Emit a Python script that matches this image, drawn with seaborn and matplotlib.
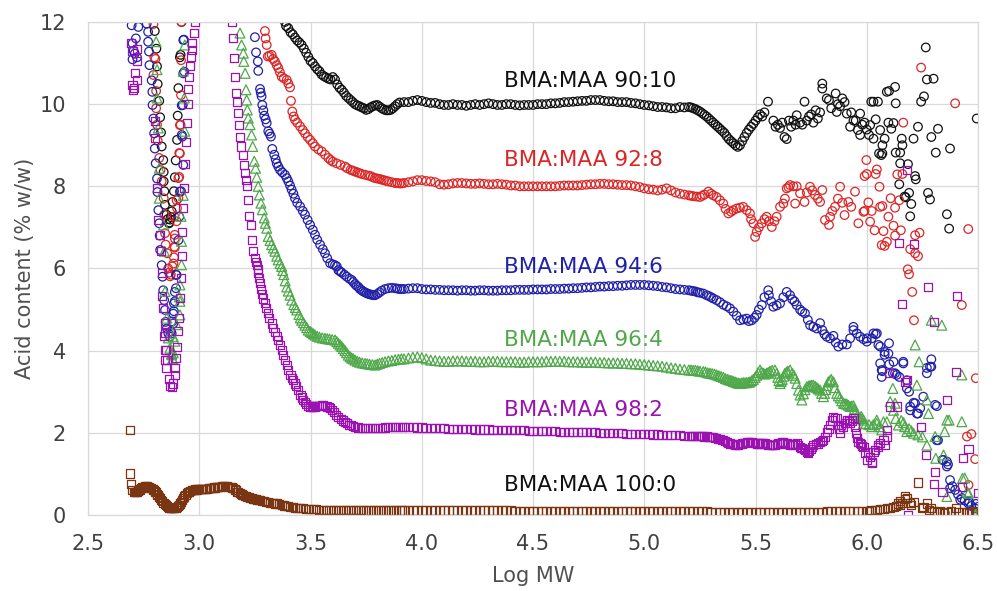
import numpy as np
import pandas as pd
import matplotlib.pyplot as plt
import seaborn as sns

# ---- data (x = Log MW, y = acid content % w/w) ----

# common sampling positions of the flat middle part of each trace
grid_x = [3.92, 3.94, 3.96, 3.98, 4.00, 4.02, 4.04, 4.06, 4.08, 4.10, 4.12, 4.14, 4.16,
          4.18, 4.20, 4.22, 4.24, 4.26, 4.28, 4.30, 4.32, 4.34, 4.36, 4.38, 4.40, 4.42,
          4.44, 4.46, 4.48, 4.50, 4.52, 4.54, 4.56, 4.58, 4.60, 4.62, 4.64, 4.66, 4.68,
          4.70, 4.72, 4.74, 4.76, 4.78, 4.80, 4.82, 4.84, 4.86, 4.88, 4.90, 4.92, 4.94,
          4.96, 4.98, 5.00, 5.02, 5.04, 5.06, 5.08, 5.10, 5.12, 5.14, 5.16, 5.18, 5.20]
brown_tail_x = [5.22, 5.24, 5.26, 5.28, 5.30, 5.32, 5.34, 5.36, 5.38, 5.40, 5.42, 5.44,
                5.46, 5.48, 5.50, 5.52, 5.54, 5.56, 5.58, 5.60, 5.62, 5.64, 5.66, 5.68,
                5.70, 5.72, 5.74, 5.76, 5.78, 5.80, 5.82, 5.84, 5.86, 5.88, 5.90, 5.92,
                5.94, 5.96, 5.98, 6.00]

# BMA:MAA 90:10
bk_left = [(2.800, 11.78), (2.807, 11.35), (2.810, 10.92), (2.813, 10.49), (2.820, 10.08),
           (2.824, 9.68), (2.828, 9.31), (2.831, 8.97), (2.838, 8.64), (2.840, 8.35),
           (2.840, 8.12), (2.843, 7.88), (2.846, 7.55), (2.853, 7.31), (2.858, 7.20),
           (2.864, 7.10), (2.866, 7.12), (2.869, 7.19), (2.872, 7.25), (2.876, 7.39),
           (2.880, 7.62), (2.886, 7.88), (2.890, 8.22), (2.894, 8.63), (2.900, 9.13),
           (2.903, 9.72), (2.906, 10.39), (2.913, 11.14), (2.916, 11.2), (2.920, 12.0)]
bk_rise = [(3.385, 12.0), (3.39, 11.9), (3.40, 11.85), (3.41, 11.75), (3.42, 11.7),
           (3.43, 11.62), (3.44, 11.55), (3.45, 11.5), (3.46, 11.44), (3.47, 11.35),
           (3.48, 11.25), (3.49, 11.15), (3.50, 11.05), (3.51, 11.0), (3.52, 10.92),
           (3.53, 10.85), (3.54, 10.8), (3.55, 10.72), (3.56, 10.68), (3.57, 10.65),
           (3.58, 10.62), (3.59, 10.6), (3.60, 10.66), (3.61, 10.6), (3.62, 10.48),
           (3.63, 10.4), (3.64, 10.35), (3.65, 10.28), (3.66, 10.2), (3.67, 10.15),
           (3.68, 10.1), (3.69, 10.05), (3.70, 10.0), (3.71, 9.97), (3.72, 9.95),
           (3.73, 9.92), (3.74, 9.9), (3.75, 9.86), (3.76, 9.88), (3.77, 9.92), (3.78, 9.95),
           (3.79, 9.97), (3.80, 9.98), (3.81, 9.94), (3.82, 9.9), (3.83, 9.87),
           (3.84, 9.85), (3.85, 9.85), (3.86, 9.86), (3.87, 9.9), (3.88, 9.95),
           (3.89, 10.0), (3.90, 10.04)]
bk_mid = [10.05, 10.05, 10.08, 10.1, 10.08, 10.05, 10.03, 10.03, 10.0, 9.98, 9.98, 10.0,
          9.98, 9.98, 9.96, 9.98, 10.0, 9.98, 10.0, 10.02, 10.0, 9.98, 9.98, 10.0, 10.0,
          9.98, 9.97, 9.98, 9.98, 9.98, 10.0, 10.0, 10.0, 10.02, 10.02, 10.03, 10.05,
          10.05, 10.06, 10.07, 10.08, 10.08, 10.1, 10.1, 10.1, 10.08, 10.07, 10.07, 10.05,
          10.05, 10.05, 10.03, 10.02, 10.0, 9.98, 9.97, 9.95, 9.93, 9.93, 9.92, 9.9, 9.9,
          9.93, 9.92, 9.93]
bk_tail = [(5.21, 9.92), (5.22, 9.9), (5.23, 9.88), (5.24, 9.85), (5.25, 9.82), (5.26, 9.78),
           (5.27, 9.74), (5.28, 9.7), (5.29, 9.65), (5.30, 9.6), (5.31, 9.55), (5.32, 9.5),
           (5.33, 9.45), (5.34, 9.4), (5.35, 9.35), (5.36, 9.3), (5.37, 9.22), (5.38, 9.15),
           (5.39, 9.1), (5.40, 9.05), (5.41, 9.0), (5.42, 8.96), (5.43, 9.0), (5.44, 9.1),
           (5.45, 9.2), (5.46, 9.3), (5.47, 9.38), (5.48, 9.45), (5.49, 9.52), (5.50, 9.6),
           (5.51, 9.68), (5.52, 9.75), (5.53, 9.7), (5.54, 9.8), (5.556, 10.06),
           (5.58, 9.6), (5.59, 9.45), (5.60, 9.5), (5.61, 9.42), (5.62, 9.55), (5.63, 9.2),
           (5.64, 9.15), (5.65, 9.6), (5.66, 9.45), (5.67, 9.6), (5.68, 9.5), (5.685, 9.73),
           (5.70, 9.55), (5.71, 9.5), (5.72, 10.06), (5.73, 9.6), (5.74, 9.7), (5.75, 9.75),
           (5.76, 9.55), (5.77, 9.85), (5.78, 9.65), (5.79, 9.8), (5.80, 10.5), (5.80, 10.38),
           (5.82, 10.14), (5.83, 10.1), (5.84, 9.9), (5.86, 10.26), (5.865, 9.81),
           (5.87, 10.0), (5.88, 9.95), (5.89, 10.14), (5.90, 10.05), (5.91, 9.77),
           (5.925, 9.45), (5.93, 9.8), (5.94, 9.6), (5.95, 9.6), (5.96, 9.37), (5.97, 9.77),
           (5.97, 9.25), (5.98, 9.5), (5.99, 9.55), (6.00, 9.38), (6.01, 9.25), (6.015, 9.49),
           (6.02, 10.06), (6.03, 10.06), (6.03, 9.16), (6.04, 9.63), (6.05, 10.06),
           (6.055, 8.8), (6.065, 8.76), (6.07, 8.8), (6.06, 9.37), (6.07, 9.0), (6.08, 9.16),
           (6.09, 10.3), (6.10, 10.32), (6.097, 9.55), (6.11, 9.4), (6.12, 9.54),
           (6.127, 10.42), (6.13, 10.02), (6.13, 8.82), (6.15, 8.82), (6.15, 8.56),
           (6.16, 9.0), (6.157, 9.16), (6.146, 8.05), (6.185, 8.54), (6.17, 7.75),
           (6.175, 7.73), (6.19, 7.84), (6.20, 7.57), (6.195, 7.27), (6.21, 9.16),
           (6.217, 8.25), (6.22, 8.17), (6.23, 9.45), (6.244, 10.06), (6.257, 10.19),
           (6.265, 11.38), (6.27, 10.6), (6.30, 10.62), (6.275, 7.84), (6.284, 7.68),
           (6.29, 9.2), (6.31, 8.82), (6.32, 9.40), (6.36, 7.32), (6.37, 6.97),
           (6.374, 8.92), (6.494, 9.65), (6.35, 0.05)]

# BMA:MAA 92:8
rd_left = [(2.794, 11.95), (2.798, 11.14), (2.803, 11.1), (2.794, 10.71), (2.806, 10.32),
           (2.806, 9.9), (2.810, 9.5), (2.813, 9.11), (2.820, 8.69), (2.826, 8.4),
           (2.831, 8.12), (2.840, 7.71), (2.843, 7.31), (2.846, 6.86), (2.849, 6.58),
           (2.856, 6.37), (2.860, 6.0), (2.864, 5.9), (2.869, 5.81), (2.872, 5.85),
           (2.879, 6.05), (2.884, 6.12), (2.886, 6.27), (2.890, 6.51), (2.888, 6.53),
           (2.890, 6.73), (2.890, 6.82), (2.898, 7.15), (2.888, 7.26), (2.900, 7.47),
           (2.898, 7.66), (2.906, 7.71), (2.906, 8.2), (2.910, 8.23), (2.913, 8.8),
           (2.910, 8.81), (2.913, 9.49), (2.916, 9.5), (2.918, 10.22), (2.918, 11.07),
           (2.920, 12.0)]
rd_rise = [(3.295, 11.78), (3.298, 11.6), (3.303, 11.44), (3.308, 11.16), (3.315, 11.18),
           (3.325, 11.2), (3.332, 11.1), (3.34, 11.04), (3.348, 10.95), (3.355, 10.88),
           (3.362, 10.78), (3.37, 10.67), (3.38, 10.63), (3.393, 10.59), (3.40, 10.5),
           (3.408, 10.41), (3.412, 10.08), (3.418, 9.82), (3.424, 9.7), (3.43, 9.62),
           (3.44, 9.55), (3.453, 9.46), (3.465, 9.37), (3.475, 9.29), (3.487, 9.2),
           (3.498, 9.13), (3.51, 9.05), (3.52, 8.97), (3.535, 8.9), (3.55, 8.85),
           (3.565, 8.77), (3.58, 8.69), (3.59, 8.64), (3.60, 8.6), (3.617, 8.56),
           (3.635, 8.52), (3.655, 8.48), (3.665, 8.44), (3.68, 8.4), (3.69, 8.38),
           (3.70, 8.36), (3.71, 8.34), (3.72, 8.32), (3.73, 8.3), (3.745, 8.28),
           (3.76, 8.26), (3.77, 8.25), (3.78, 8.22), (3.79, 8.2), (3.80, 8.19), (3.81, 8.18),
           (3.82, 8.16), (3.83, 8.15), (3.84, 8.13), (3.85, 8.12), (3.865, 8.1),
           (3.88, 8.08), (3.89, 8.08), (3.90, 8.07), (3.91, 8.07)]
rd_mid = [8.08, 8.1, 8.12, 8.15, 8.15, 8.13, 8.12, 8.1, 8.05, 8.04, 8.05, 8.07, 8.08, 8.08,
          8.07, 8.06, 8.06, 8.07, 8.06, 8.05, 8.05, 8.06, 8.05, 8.04, 8.02, 8.02, 8.0, 8.0,
          8.0, 8.0, 8.0, 8.0, 8.0, 8.0, 8.0, 8.01, 8.02, 8.02, 8.02, 8.02, 8.03, 8.04, 8.05,
          8.05, 8.06, 8.06, 8.05, 8.05, 8.04, 8.03, 8.03, 8.02, 8.0, 7.98, 7.95, 7.93, 7.92,
          7.9, 7.92, 7.95, 7.9, 7.85, 7.82, 7.8, 7.78]
rd_tail = [(5.21, 7.77), (5.22, 7.76), (5.235, 7.75), (5.25, 7.74), (5.26, 7.77),
           (5.27, 7.8), (5.288, 7.87), (5.30, 7.82), (5.31, 7.78), (5.325, 7.74),
           (5.34, 7.66), (5.355, 7.58), (5.365, 7.45), (5.378, 7.34), (5.39, 7.38),
           (5.40, 7.42), (5.415, 7.46), (5.43, 7.48), (5.445, 7.5), (5.46, 7.42),
           (5.475, 7.34), (5.48, 7.2), (5.49, 7.1), (5.505, 6.89), (5.498, 6.77),
           (5.515, 7.0), (5.528, 7.1), (5.54, 7.2), (5.55, 7.26), (5.56, 7.15),
           (5.573, 7.01), (5.585, 7.15), (5.595, 7.26), (5.61, 7.5), (5.625, 7.58),
           (5.632, 7.7), (5.64, 7.95), (5.648, 7.98), (5.655, 8.03), (5.67, 8.0),
           (5.685, 8.0), (5.70, 7.83), (5.678, 7.58), (5.72, 7.62), (5.73, 7.85),
           (5.745, 7.99), (5.755, 7.9), (5.767, 7.79), (5.78, 7.7), (5.79, 7.62),
           (5.80, 7.91), (5.812, 7.18), (5.835, 7.26), (5.83, 7.06), (5.845, 7.4),
           (5.857, 7.5), (5.87, 7.7), (5.88, 7.99), (5.89, 7.6), (5.90, 7.3), (5.917, 7.62),
           (5.93, 7.5), (5.947, 7.87), (5.962, 7.1), (5.985, 7.38), (5.99, 8.25),
           (5.998, 8.64), (6.0, 8.3), (5.99, 7.4), (6.007, 7.61), (6.015, 7.14),
           (6.022, 7.4), (6.035, 6.93), (6.04, 8.3), (6.045, 8.41), (6.057, 7.99),
           (6.06, 7.5), (6.067, 6.57), (6.07, 7.52), (6.075, 6.91), (6.08, 6.55),
           (6.09, 6.65), (6.097, 7.26), (6.107, 7.71), (6.12, 7.04), (6.127, 7.48),
           (6.127, 6.8), (6.137, 8.29), (6.146, 7.66), (6.153, 6.93), (6.16, 8.3),
           (6.164, 9.55), (6.184, 5.98), (6.19, 5.86), (6.195, 6.47), (6.204, 5.43),
           (6.212, 4.74), (6.217, 6.37), (6.217, 6.81), (6.23, 6.3), (6.237, 6.87),
           (6.244, 10.89), (6.397, 10.02), (6.427, 5.11), (6.456, 6.96), (6.49, 3.33),
           (6.45, 1.91), (6.47, 1.97), (6.487, 1.36), (6.457, 0.73)]

# BMA:MAA 94:6
bl_left = [(2.696, 11.92), (2.726, 11.88), (2.700, 11.48), (2.710, 11.23), (2.700, 11.09),
           (2.705, 11.3), (2.715, 11.6), (2.720, 11.14), (2.764, 11.96), (2.770, 11.76),
           (2.770, 11.52), (2.774, 11.28), (2.776, 10.95), (2.786, 10.58), (2.789, 10.3),
           (2.790, 9.98), (2.794, 9.65), (2.797, 9.29), (2.800, 8.92), (2.804, 8.56),
           (2.810, 8.19), (2.812, 7.86), (2.816, 7.42), (2.820, 7.1), (2.822, 6.8),
           (2.824, 6.45), (2.831, 6.08), (2.835, 5.8), (2.838, 5.47), (2.842, 5.23),
           (2.846, 4.99), (2.849, 4.7), (2.854, 4.54), (2.861, 4.42), (2.868, 4.34),
           (2.873, 4.47), (2.876, 4.42), (2.879, 4.71), (2.883, 4.66), (2.886, 4.96),
           (2.883, 4.9), (2.886, 5.15), (2.890, 5.2), (2.890, 5.43), (2.895, 5.52),
           (2.895, 5.85), (2.898, 5.84), (2.906, 6.69), (2.910, 7.26), (2.913, 7.87),
           (2.918, 7.88), (2.928, 8.52), (2.921, 9.25), (2.924, 9.21), (2.926, 9.98),
           (2.921, 9.97), (2.928, 10.75), (2.933, 10.79), (2.928, 11.56), (2.931, 11.57)]
bl_rise = [(3.25, 11.63), (3.255, 11.26), (3.263, 11.04), (3.265, 10.81), (3.273, 10.37),
           (3.276, 10.28), (3.28, 10.19), (3.283, 9.98), (3.288, 9.85), (3.292, 9.72),
           (3.298, 9.63), (3.303, 9.54), (3.31, 9.34), (3.316, 9.28), (3.322, 9.21),
           (3.328, 8.91), (3.337, 8.77), (3.343, 8.66), (3.348, 8.56), (3.355, 8.48),
           (3.363, 8.4), (3.373, 8.34), (3.385, 8.28), (3.393, 8.2), (3.40, 8.12),
           (3.408, 8.02), (3.415, 7.92), (3.423, 7.82), (3.43, 7.71), (3.44, 7.6),
           (3.453, 7.51), (3.465, 7.4), (3.475, 7.31), (3.487, 7.18), (3.498, 7.06),
           (3.51, 6.94), (3.52, 6.82), (3.53, 6.7), (3.543, 6.58), (3.555, 6.47),
           (3.565, 6.37), (3.575, 6.25), (3.588, 6.13), (3.60, 6.1), (3.61, 6.08),
           (3.618, 6.05), (3.625, 5.96), (3.633, 5.93), (3.64, 5.9), (3.652, 5.85),
           (3.663, 5.8), (3.675, 5.75), (3.685, 5.72), (3.692, 5.67), (3.70, 5.62),
           (3.707, 5.58), (3.715, 5.55), (3.722, 5.5), (3.73, 5.47), (3.737, 5.44),
           (3.745, 5.42), (3.752, 5.4), (3.76, 5.38), (3.767, 5.37), (3.775, 5.36),
           (3.782, 5.35), (3.79, 5.35), (3.80, 5.38), (3.81, 5.42), (3.82, 5.46),
           (3.835, 5.5), (3.85, 5.52), (3.865, 5.53), (3.88, 5.52), (3.89, 5.51),
           (3.90, 5.5), (3.91, 5.5)]
bl_mid = [5.5, 5.51, 5.52, 5.52, 5.5, 5.49, 5.49, 5.48, 5.48, 5.47, 5.47, 5.47, 5.46, 5.47,
          5.47, 5.46, 5.46, 5.47, 5.47, 5.46, 5.46, 5.46, 5.47, 5.47, 5.47, 5.48, 5.48, 5.48,
          5.48, 5.49, 5.49, 5.49, 5.49, 5.5, 5.5, 5.5, 5.51, 5.51, 5.52, 5.52, 5.53, 5.54,
          5.54, 5.55, 5.56, 5.56, 5.57, 5.57, 5.58, 5.58, 5.59, 5.6, 5.6, 5.6, 5.6, 5.59,
          5.58, 5.57, 5.55, 5.54, 5.52, 5.5, 5.49, 5.48, 5.47]
bl_tail = [(5.21, 5.46), (5.22, 5.45), (5.23, 5.44), (5.24, 5.42), (5.25, 5.41),
           (5.265, 5.39), (5.28, 5.35), (5.29, 5.33), (5.30, 5.3), (5.31, 5.27),
           (5.325, 5.23), (5.34, 5.18), (5.355, 5.12), (5.37, 5.08), (5.385, 5.03),
           (5.40, 4.95), (5.415, 4.85), (5.43, 4.74), (5.445, 4.76), (5.46, 4.78),
           (5.47, 4.72), (5.483, 4.74), (5.495, 4.8), (5.505, 4.87), (5.515, 5.0),
           (5.528, 5.11), (5.54, 5.3), (5.557, 5.47), (5.56, 5.35), (5.57, 5.2),
           (5.58, 5.07), (5.595, 5.1), (5.61, 5.15), (5.625, 5.3), (5.64, 5.43),
           (5.655, 5.35), (5.665, 5.25), (5.675, 5.2), (5.685, 5.11), (5.70, 5.0),
           (5.71, 4.95), (5.722, 4.91), (5.735, 4.75), (5.745, 4.62), (5.76, 4.58),
           (5.775, 4.54), (5.79, 4.67), (5.80, 4.5), (5.81, 4.4), (5.82, 4.34),
           (5.835, 4.3), (5.85, 4.36), (5.86, 4.2), (5.872, 4.1), (5.89, 4.15),
           (5.91, 4.15), (5.925, 4.3), (5.94, 4.5), (5.94, 4.58), (5.955, 4.42),
           (5.97, 4.34), (5.985, 4.28), (6.0, 4.22), (6.0, 4.3), (6.022, 4.3),
           (6.03, 4.42), (6.045, 4.42), (6.04, 4.4), (6.052, 4.14), (6.06, 4.1),
           (6.06, 3.69), (6.067, 3.53), (6.067, 3.36), (6.07, 3.5), (6.08, 3.9),
           (6.08, 3.97), (6.097, 3.93), (6.10, 4.18), (6.101, 3.67), (6.12, 3.73),
           (6.117, 3.45), (6.127, 3.45), (6.134, 3.41), (6.146, 3.36), (6.164, 3.69),
           (6.164, 3.73), (6.18, 3.28), (6.18, 3.08), (6.19, 3.0), (6.195, 2.64),
           (6.195, 2.55), (6.21, 2.73), (6.217, 2.72), (6.225, 2.47), (6.23, 2.47),
           (6.24, 2.6), (6.254, 2.88), (6.27, 3.45), (6.27, 3.58), (6.284, 3.61),
           (6.29, 3.79), (6.29, 3.61), (6.307, 2.68), (6.315, 2.65), (6.314, 1.82),
           (6.32, 1.82), (6.34, 1.34), (6.345, 1.34), (6.36, 1.3), (6.36, 1.18),
           (6.365, 1.23), (6.374, 0.85), (6.374, 0.65), (6.385, 0.7), (6.397, 0.61),
           (6.41, 0.5), (6.42, 0.37), (6.427, 0.41), (6.44, 0.35), (6.457, 0.28),
           (6.46, 0.32), (6.47, 0.22), (6.487, 0.16), (6.49, 0.27), (6.50, 0.2)]

# BMA:MAA 96:4
gr_left = [(2.806, 11.52), (2.810, 10.84), (2.810, 10.15), (2.816, 9.42), (2.820, 8.44),
           (2.820, 7.71), (2.840, 7.06), (2.843, 6.42), (2.846, 5.44), (2.854, 4.79),
           (2.861, 4.31), (2.868, 4.06), (2.876, 3.93), (2.876, 3.9), (2.880, 3.8),
           (2.883, 3.95), (2.883, 4.34), (2.890, 4.23), (2.898, 4.63), (2.913, 4.87),
           (2.910, 5.31), (2.913, 5.2), (2.913, 5.6), (2.920, 6.09), (2.920, 6.66),
           (2.918, 7.27), (2.928, 7.78), (2.935, 9.34), (2.933, 10.15), (2.928, 10.8),
           (2.935, 11.44)]
gr_rise = [(3.183, 11.73), (3.19, 11.44), (3.198, 11.24), (3.20, 11.04), (3.206, 10.75),
           (3.21, 10.35), (3.213, 10.1), (3.216, 9.86), (3.22, 9.66), (3.228, 9.5),
           (3.235, 9.25), (3.24, 8.97), (3.247, 8.61), (3.253, 8.44), (3.258, 8.22),
           (3.265, 8.0), (3.27, 7.79), (3.277, 7.59), (3.283, 7.43), (3.292, 7.23),
           (3.297, 7.1), (3.303, 6.98), (3.31, 6.78), (3.318, 6.68), (3.325, 6.58),
           (3.333, 6.5), (3.34, 6.42), (3.348, 6.3), (3.355, 6.21), (3.363, 6.12),
           (3.37, 6.05), (3.375, 5.95), (3.38, 5.85), (3.386, 5.7), (3.393, 5.55),
           (3.40, 5.45), (3.408, 5.35), (3.415, 5.23), (3.425, 5.12), (3.432, 5.05),
           (3.438, 4.99), (3.448, 4.88), (3.454, 4.8), (3.46, 4.74), (3.468, 4.68),
           (3.475, 4.62), (3.483, 4.56), (3.49, 4.5), (3.498, 4.47), (3.505, 4.44),
           (3.513, 4.41), (3.52, 4.38), (3.53, 4.35), (3.54, 4.33), (3.553, 4.31),
           (3.565, 4.3), (3.575, 4.29), (3.585, 4.28), (3.597, 4.27), (3.61, 4.26),
           (3.618, 4.22), (3.625, 4.18), (3.633, 4.14), (3.64, 4.1), (3.648, 4.05),
           (3.655, 4.0), (3.662, 3.95), (3.67, 3.89), (3.678, 3.85), (3.685, 3.82),
           (3.692, 3.8), (3.70, 3.77), (3.71, 3.74), (3.72, 3.72), (3.732, 3.7),
           (3.745, 3.69), (3.755, 3.68), (3.765, 3.67), (3.778, 3.66), (3.79, 3.65),
           (3.80, 3.67), (3.81, 3.69), (3.822, 3.71), (3.835, 3.73), (3.85, 3.75),
           (3.865, 3.76), (3.88, 3.78), (3.895, 3.79), (3.908, 3.8)]
gr_mid = [3.8, 3.82, 3.84, 3.85, 3.83, 3.8, 3.77, 3.76, 3.75, 3.74, 3.74, 3.75, 3.75, 3.75,
          3.74, 3.74, 3.74, 3.73, 3.73, 3.74, 3.74, 3.74, 3.73, 3.73, 3.73, 3.73, 3.72, 3.72,
          3.73, 3.73, 3.73, 3.73, 3.74, 3.74, 3.74, 3.74, 3.74, 3.73, 3.73, 3.73, 3.72, 3.72,
          3.72, 3.72, 3.71, 3.71, 3.7, 3.7, 3.7, 3.69, 3.69, 3.68, 3.68, 3.67, 3.66, 3.65,
          3.64, 3.63, 3.62, 3.6, 3.58, 3.57, 3.55, 3.54, 3.53]
gr_tail = [(5.21, 3.53), (5.22, 3.52), (5.23, 3.52), (5.24, 3.51), (5.25, 3.5),
           (5.265, 3.49), (5.275, 3.48), (5.285, 3.46), (5.295, 3.45), (5.305, 3.44),
           (5.315, 3.43), (5.325, 3.41), (5.335, 3.39), (5.345, 3.37), (5.355, 3.35),
           (5.365, 3.32), (5.375, 3.3), (5.385, 3.28), (5.393, 3.27), (5.40, 3.25),
           (5.408, 3.24), (5.415, 3.22), (5.423, 3.21), (5.43, 3.2), (5.438, 3.21),
           (5.445, 3.22), (5.453, 3.22), (5.46, 3.22), (5.468, 3.23), (5.475, 3.24),
           (5.483, 3.27), (5.49, 3.3), (5.498, 3.35), (5.505, 3.4), (5.512, 3.47),
           (5.52, 3.53), (5.527, 3.48), (5.535, 3.45), (5.542, 3.43), (5.55, 3.45),
           (5.557, 3.47), (5.565, 3.5), (5.575, 3.52), (5.587, 3.53), (5.595, 3.45),
           (5.60, 3.35), (5.605, 3.27), (5.61, 3.2), (5.615, 3.25), (5.62, 3.3),
           (5.627, 3.38), (5.632, 3.45), (5.64, 3.48), (5.645, 3.5), (5.655, 3.53),
           (5.665, 3.45), (5.672, 3.4), (5.678, 3.33), (5.685, 3.2), (5.693, 3.04),
           (5.70, 2.92), (5.708, 2.8), (5.715, 2.95), (5.722, 3.05), (5.73, 3.12),
           (5.738, 3.14), (5.745, 3.15), (5.752, 3.16), (5.76, 3.16), (5.768, 3.13),
           (5.775, 3.1), (5.782, 3.07), (5.79, 3.04), (5.797, 2.96), (5.805, 2.88),
           (5.81, 2.96), (5.815, 3.05), (5.82, 3.15), (5.827, 3.24), (5.835, 3.27),
           (5.84, 3.3), (5.85, 3.24), (5.857, 3.1), (5.865, 2.96), (5.872, 2.9),
           (5.88, 2.85), (5.887, 2.78), (5.895, 2.72), (5.902, 2.71), (5.91, 2.7),
           (5.917, 2.67), (5.925, 2.64), (5.932, 2.65), (5.94, 2.66), (5.945, 2.58),
           (5.95, 2.5), (5.957, 2.42), (5.962, 2.35), (5.968, 2.38), (5.975, 2.4),
           (5.98, 2.35), (5.985, 2.31), (5.985, 2.23), (5.995, 2.22), (6.01, 2.2),
           (6.022, 2.15), (6.03, 2.2), (6.045, 2.23), (6.045, 2.31), (6.055, 2.15),
           (6.067, 2.07), (6.075, 2.27), (6.09, 2.27), (6.105, 2.76), (6.117, 3.08),
           (6.12, 2.55), (6.127, 2.72), (6.13, 2.35), (6.142, 2.19), (6.155, 2.3),
           (6.165, 2.25), (6.17, 2.15), (6.18, 2.03), (6.19, 2.1), (6.20, 2.05),
           (6.21, 1.99), (6.217, 4.14), (6.225, 3.16), (6.23, 1.95), (6.235, 3.73),
           (6.25, 1.9), (6.27, 2.8), (6.277, 2.47), (6.27, 1.7), (6.29, 4.74),
           (6.307, 1.91), (6.31, 1.38), (6.337, 4.62), (6.345, 1.46), (6.35, 2.03),
           (6.36, 2.31), (6.37, 2.31), (6.36, 0.45), (6.427, 3.41), (6.427, 2.27),
           (6.43, 0.89), (6.44, 0.9), (6.45, 0.57), (6.457, 0.53), (6.487, 0.0),
           (6.49, 0.05)]

# BMA:MAA 98:2
pu_left = [(2.693, 11.48), (2.700, 11.3), (2.711, 10.75), (2.700, 10.47), (2.704, 10.35),
           (2.720, 10.59), (2.720, 11.05), (2.720, 11.35), (2.705, 10.4), (2.800, 9.6),
           (2.800, 9.17), (2.810, 7.96), (2.816, 7.19), (2.824, 6.82), (2.827, 6.42),
           (2.831, 5.89), (2.834, 5.32), (2.838, 5.04), (2.846, 4.66), (2.846, 4.42),
           (2.843, 4.35), (2.849, 4.01), (2.846, 4.02), (2.846, 3.77), (2.851, 3.57),
           (2.854, 3.78), (2.862, 3.3), (2.868, 3.15), (2.876, 3.12), (2.883, 3.2),
           (2.890, 3.41), (2.890, 3.57), (2.895, 3.82), (2.898, 4.1), (2.906, 4.47),
           (2.909, 4.79), (2.913, 5.28), (2.918, 5.77), (2.921, 6.31), (2.924, 6.88),
           (2.928, 7.47), (2.933, 7.97), (2.936, 8.55), (2.939, 9.08), (2.943, 9.55),
           (2.948, 10.0), (2.951, 10.37), (2.955, 10.65), (2.958, 10.92), (2.963, 11.16),
           (2.969, 11.32), (2.969, 11.48), (2.976, 11.73), (2.980, 12.0)]
pu_rise = [(3.146, 12.0), (3.153, 11.6), (3.158, 11.12), (3.16, 10.67), (3.165, 10.27),
           (3.168, 10.06), (3.173, 9.78), (3.179, 9.5), (3.183, 9.21), (3.188, 8.97),
           (3.195, 8.77), (3.20, 8.52), (3.206, 8.32), (3.21, 8.15), (3.213, 8.0),
           (3.218, 7.67), (3.223, 7.27), (3.231, 7.06), (3.235, 6.7), (3.243, 6.42),
           (3.25, 6.25), (3.254, 6.16), (3.258, 6.09), (3.262, 5.98), (3.265, 5.88),
           (3.27, 5.76), (3.273, 5.64), (3.277, 5.5), (3.28, 5.39), (3.288, 5.27),
           (3.295, 5.15), (3.30, 5.03), (3.307, 4.91), (3.315, 4.8), (3.325, 4.66),
           (3.333, 4.55), (3.34, 4.46), (3.348, 4.36), (3.355, 4.26), (3.363, 4.13),
           (3.37, 4.01), (3.378, 3.9), (3.385, 3.77), (3.393, 3.65), (3.40, 3.53),
           (3.41, 3.4), (3.417, 3.34), (3.423, 3.28), (3.43, 3.2), (3.435, 3.15),
           (3.445, 3.04), (3.455, 2.92), (3.462, 2.86), (3.468, 2.8), (3.475, 2.74),
           (3.48, 2.7), (3.49, 2.65), (3.498, 2.64), (3.505, 2.64), (3.512, 2.64),
           (3.52, 2.64), (3.53, 2.65), (3.54, 2.66), (3.55, 2.67), (3.558, 2.68),
           (3.567, 2.66), (3.575, 2.64), (3.582, 2.62), (3.588, 2.6), (3.597, 2.55),
           (3.605, 2.5), (3.615, 2.44), (3.625, 2.39), (3.635, 2.34), (3.645, 2.3),
           (3.655, 2.26), (3.663, 2.23), (3.672, 2.2), (3.68, 2.18), (3.69, 2.16),
           (3.70, 2.15), (3.715, 2.13), (3.73, 2.12), (3.745, 2.11), (3.76, 2.11),
           (3.775, 2.11), (3.79, 2.11), (3.805, 2.11), (3.82, 2.12), (3.835, 2.13),
           (3.85, 2.15), (3.865, 2.14), (3.88, 2.14), (3.895, 2.14), (3.91, 2.14)]
pu_mid = [2.14, 2.14, 2.14, 2.13, 2.13, 2.12, 2.11, 2.11, 2.11, 2.11, 2.1, 2.1, 2.1, 2.09,
          2.09, 2.09, 2.08, 2.08, 2.08, 2.08, 2.07, 2.07, 2.07, 2.07, 2.06, 2.06, 2.06, 2.06,
          2.05, 2.05, 2.05, 2.05, 2.04, 2.04, 2.04, 2.03, 2.03, 2.03, 2.02, 2.02, 2.02, 2.01,
          2.01, 2.01, 2.0, 2.0, 2.0, 1.99, 1.99, 1.99, 1.98, 1.98, 1.98, 1.97, 1.97, 1.97,
          1.96, 1.96, 1.95, 1.95, 1.95, 1.94, 1.94, 1.93, 1.93]
pu_tail = [(5.21, 1.93), (5.22, 1.93), (5.23, 1.93), (5.24, 1.92), (5.25, 1.92),
           (5.26, 1.92), (5.27, 1.91), (5.28, 1.91), (5.29, 1.9), (5.30, 1.9), (5.31, 1.89),
           (5.32, 1.88), (5.33, 1.86), (5.34, 1.85), (5.348, 1.83), (5.355, 1.82),
           (5.363, 1.8), (5.37, 1.78), (5.378, 1.76), (5.385, 1.74), (5.393, 1.73),
           (5.40, 1.72), (5.408, 1.71), (5.415, 1.7), (5.423, 1.71), (5.43, 1.72),
           (5.438, 1.74), (5.445, 1.75), (5.453, 1.76), (5.46, 1.77), (5.468, 1.78),
           (5.475, 1.78), (5.483, 1.77), (5.49, 1.76), (5.498, 1.75), (5.505, 1.74),
           (5.513, 1.74), (5.52, 1.74), (5.528, 1.75), (5.535, 1.76), (5.543, 1.74),
           (5.55, 1.72), (5.558, 1.71), (5.565, 1.7), (5.573, 1.7), (5.58, 1.7),
           (5.588, 1.71), (5.595, 1.72), (5.603, 1.74), (5.61, 1.75), (5.618, 1.77),
           (5.625, 1.78), (5.632, 1.76), (5.64, 1.74), (5.648, 1.72), (5.655, 1.7),
           (5.662, 1.71), (5.67, 1.72), (5.678, 1.73), (5.685, 1.74), (5.692, 1.7),
           (5.70, 1.66), (5.705, 1.64), (5.71, 1.62), (5.716, 1.6), (5.722, 1.58),
           (5.73, 1.54), (5.737, 1.5), (5.742, 1.55), (5.748, 1.6), (5.754, 1.65),
           (5.76, 1.7), (5.77, 1.72), (5.78, 1.74), (5.79, 1.78), (5.798, 1.8),
           (5.805, 1.82), (5.812, 1.9), (5.82, 2.03), (5.828, 2.1), (5.835, 2.19),
           (5.843, 2.3), (5.85, 2.39), (5.858, 2.37), (5.865, 2.35), (5.87, 2.2),
           (5.875, 2.1), (5.88, 1.99), (5.885, 2.19), (5.895, 2.15), (5.903, 2.25),
           (5.91, 2.31), (5.918, 2.28), (5.925, 2.25), (5.933, 2.3), (5.94, 2.35),
           (5.945, 2.15), (5.95, 2.0), (5.955, 1.88), (5.962, 1.78), (5.968, 1.75),
           (5.975, 1.72), (5.98, 1.69), (5.985, 1.66), (5.993, 1.5), (6.0, 1.34),
           (6.007, 1.54), (6.015, 1.42), (6.022, 1.3), (6.022, 1.26), (6.03, 1.54),
           (6.037, 1.58), (6.05, 1.66), (6.052, 1.7), (6.06, 1.75), (6.075, 1.82),
           (6.08, 1.7), (6.09, 1.91), (6.09, 2.07), (6.10, 3.45), (6.105, 2.64),
           (6.137, 2.64), (6.146, 6.63), (6.16, 5.13), (6.17, 3.24), (6.18, 8.39),
           (6.18, 3.28), (6.184, 0.0), (6.212, 6.59), (6.244, 2.15), (6.267, 1.46),
           (6.277, 5.54), (6.30, 4.7), (6.30, 0.75), (6.307, 1.05), (6.34, 0.57),
           (6.36, 2.81), (6.40, 3.49), (6.407, 5.33), (6.427, 0.69), (6.434, 1.38),
           (6.457, 1.6), (6.50, 0.53)]

# BMA:MAA 100:0
br_head = [(2.689, 2.07), (2.689, 1.01), (2.695, 0.75), (2.700, 0.6), (2.705, 0.57),
           (2.710, 0.56), (2.715, 0.56), (2.720, 0.57), (2.725, 0.58), (2.730, 0.6),
           (2.734, 0.62), (2.740, 0.65), (2.745, 0.67), (2.750, 0.69), (2.755, 0.7),
           (2.760, 0.7), (2.764, 0.7), (2.770, 0.69), (2.775, 0.68), (2.780, 0.66),
           (2.785, 0.65), (2.790, 0.63), (2.794, 0.61), (2.799, 0.58), (2.803, 0.55),
           (2.808, 0.52), (2.812, 0.48), (2.818, 0.44), (2.824, 0.41), (2.829, 0.37),
           (2.834, 0.33), (2.839, 0.3), (2.844, 0.27), (2.849, 0.24), (2.854, 0.22),
           (2.859, 0.2), (2.864, 0.18), (2.869, 0.17), (2.874, 0.16), (2.878, 0.16),
           (2.883, 0.16), (2.888, 0.17), (2.893, 0.18), (2.898, 0.2), (2.903, 0.22),
           (2.908, 0.25), (2.913, 0.28), (2.918, 0.32), (2.923, 0.37), (2.928, 0.41),
           (2.933, 0.45), (2.938, 0.49), (2.944, 0.53), (2.950, 0.55), (2.955, 0.57),
           (2.960, 0.59), (2.966, 0.6), (2.971, 0.61), (2.977, 0.61), (2.983, 0.62),
           (2.989, 0.62), (2.995, 0.63), (3.000, 0.63), (3.006, 0.63), (3.012, 0.63),
           (3.018, 0.64), (3.024, 0.64), (3.030, 0.64), (3.036, 0.64), (3.042, 0.65),
           (3.048, 0.65), (3.054, 0.66), (3.060, 0.66), (3.066, 0.67), (3.072, 0.67),
           (3.078, 0.68), (3.084, 0.68), (3.090, 0.69), (3.096, 0.69), (3.102, 0.7),
           (3.108, 0.7), (3.115, 0.7), (3.123, 0.7), (3.130, 0.69), (3.138, 0.68),
           (3.145, 0.67), (3.153, 0.65), (3.159, 0.62), (3.165, 0.6), (3.170, 0.57),
           (3.176, 0.55), (3.182, 0.53), (3.187, 0.51), (3.193, 0.5), (3.198, 0.49),
           (3.204, 0.47), (3.210, 0.46), (3.216, 0.44), (3.222, 0.43), (3.228, 0.42),
           (3.235, 0.41), (3.241, 0.4), (3.248, 0.39), (3.254, 0.38), (3.260, 0.37),
           (3.267, 0.36), (3.273, 0.36), (3.281, 0.34), (3.290, 0.33), (3.300, 0.32),
           (3.310, 0.31), (3.320, 0.3), (3.330, 0.29), (3.340, 0.28), (3.348, 0.28),
           (3.358, 0.26), (3.370, 0.25), (3.380, 0.23), (3.390, 0.22), (3.400, 0.21),
           (3.410, 0.2), (3.420, 0.19), (3.430, 0.18), (3.440, 0.17), (3.453, 0.16),
           (3.465, 0.16), (3.480, 0.15), (3.495, 0.15), (3.510, 0.14), (3.525, 0.14),
           (3.540, 0.13), (3.555, 0.13), (3.570, 0.13), (3.585, 0.12), (3.600, 0.12),
           (3.615, 0.12), (3.630, 0.12), (3.645, 0.12), (3.660, 0.12), (3.675, 0.12),
           (3.690, 0.12), (3.705, 0.12), (3.720, 0.12), (3.735, 0.11), (3.750, 0.11),
           (3.765, 0.11), (3.780, 0.11), (3.795, 0.11), (3.810, 0.11), (3.825, 0.11),
           (3.840, 0.11), (3.855, 0.11), (3.870, 0.11), (3.885, 0.11), (3.900, 0.11),
           (3.910, 0.11)]
br_mid = [0.11, 0.11, 0.11, 0.11, 0.11, 0.11, 0.11, 0.11, 0.11, 0.11, 0.11, 0.11, 0.11,
          0.11, 0.11, 0.11, 0.11, 0.11, 0.11, 0.11, 0.11, 0.11, 0.11, 0.11, 0.11, 0.1, 0.1,
          0.1, 0.1, 0.1, 0.1, 0.1, 0.1, 0.1, 0.1, 0.1, 0.1, 0.1, 0.1, 0.1, 0.1, 0.1, 0.1,
          0.1, 0.1, 0.1, 0.1, 0.1, 0.1, 0.1, 0.1, 0.09, 0.09, 0.09, 0.09, 0.09, 0.09, 0.09,
          0.09, 0.09, 0.09, 0.09, 0.09, 0.09, 0.09]
br_mid2 = [0.09, 0.09, 0.09, 0.09, 0.08, 0.08, 0.08, 0.08, 0.08, 0.08, 0.08, 0.08, 0.08,
           0.08, 0.08, 0.08, 0.08, 0.08, 0.08, 0.08, 0.08, 0.08, 0.08, 0.08, 0.08, 0.08,
           0.08, 0.08, 0.08, 0.08, 0.09, 0.09, 0.09, 0.09, 0.09, 0.09, 0.09, 0.09, 0.1, 0.1]
br_tail = [(6.01, 0.1), (6.02, 0.12), (6.035, 0.12), (6.045, 0.12), (6.06, 0.14),
           (6.075, 0.15), (6.09, 0.18), (6.105, 0.16), (6.12, 0.2), (6.13, 0.22),
           (6.142, 0.28), (6.15, 0.35), (6.15, 0.25), (6.16, 0.3), (6.17, 0.38),
           (6.17, 0.45), (6.18, 0.41), (6.195, 0.3), (6.20, 0.25), (6.21, 0.32),
           (6.23, 0.79), (6.247, 0.16), (6.255, 0.2), (6.27, 0.28), (6.28, 0.12),
           (6.29, 0.16), (6.30, 0.1), (6.314, 0.08), (6.33, 0.1), (6.345, 0.07),
           (6.36, 0.07), (6.38, 0.1), (6.40, 0.16), (6.41, 0.08), (6.43, 0.06),
           (6.45, 0.08), (6.46, 0.05), (6.475, 0.08), (6.49, 0.1)]

labels = ["BMA:MAA 90:10", "BMA:MAA 92:8", "BMA:MAA 94:6",
          "BMA:MAA 96:4", "BMA:MAA 98:2", "BMA:MAA 100:0"]
label_y = [10.56, 8.64, 6.03, 4.27, 2.55, 0.74]


def build(parts_before, mid_x, mid_y, parts_after):
    pts = [p for part in parts_before for p in part]
    pts += list(zip(mid_x, mid_y))
    pts += [p for part in parts_after for p in part]
    arr = np.array(pts)
    return pd.DataFrame({"logmw": arr[:, 0], "acid": arr[:, 1]})


series = [
    build([bk_left, bk_rise], grid_x, bk_mid, [bk_tail]),
    build([rd_left, rd_rise], grid_x, rd_mid, [rd_tail]),
    build([bl_left, bl_rise], grid_x, bl_mid, [bl_tail]),
    build([gr_left, gr_rise], grid_x, gr_mid, [gr_tail]),
    build([pu_left, pu_rise], grid_x, pu_mid, [pu_tail]),
    build([br_head], grid_x + brown_tail_x, br_mid + br_mid2, [br_tail]),
]
colors = ["#111111", "#dc2626", "#2020a8", "#4fa84a", "#9a12b0", "#7a3612"]
markers = ["o", "o", "o", "^", "s", "s"]
sizes = [38, 38, 38, 50, 34, 34]
text_colors = ["#111111", "#dc2626", "#2020a8", "#4fa84a", "#9a12b0", "#111111"]

sns.set_theme(style="whitegrid")
plt.rcParams["font.family"] = ["DejaVu Sans"]

fig = plt.figure(figsize=(9.97, 5.91), dpi=100)
ax = fig.add_axes([0.0883, 0.1286, 0.8927, 0.8342])

for df, c, m, s in zip(series, colors, markers, sizes):
    sns.scatterplot(data=df, x="logmw", y="acid", ax=ax, marker=m, s=s,
                    color=c, edgecolor=c, linewidth=0.9, legend=False)
    ax.collections[-1].set_facecolor("none")

for txt, y, c in zip(labels, label_y, text_colors):
    ax.text(4.37, y, txt, color=c, fontsize=15.5, ha="left", va="center")

ax.set_xlim(2.5, 6.5)
ax.set_ylim(0, 12)
ax.set_xticks(np.arange(2.5, 6.51, 0.5))
ax.set_xticklabels([f"{v:.1f}" for v in np.arange(2.5, 6.51, 0.5)])
ax.set_yticks(range(0, 13, 2))
ax.tick_params(axis="both", labelsize=15, colors="#404040", length=0)
ax.tick_params(axis="y", pad=16)
ax.tick_params(axis="x", pad=14)
ax.set_xlabel("Log MW", fontsize=15, color="#505050", labelpad=8)
ax.set_ylabel("Acid content (% w/w)", fontsize=15, color="#505050", labelpad=3)
ax.grid(True, color="#d9d9d9", linewidth=0.9)
for sp in ax.spines.values():
    sp.set_color("#d9d9d9")
    sp.set_linewidth(0.9)
ax.set_facecolor("white")

fig.savefig("out.png", dpi=100)
